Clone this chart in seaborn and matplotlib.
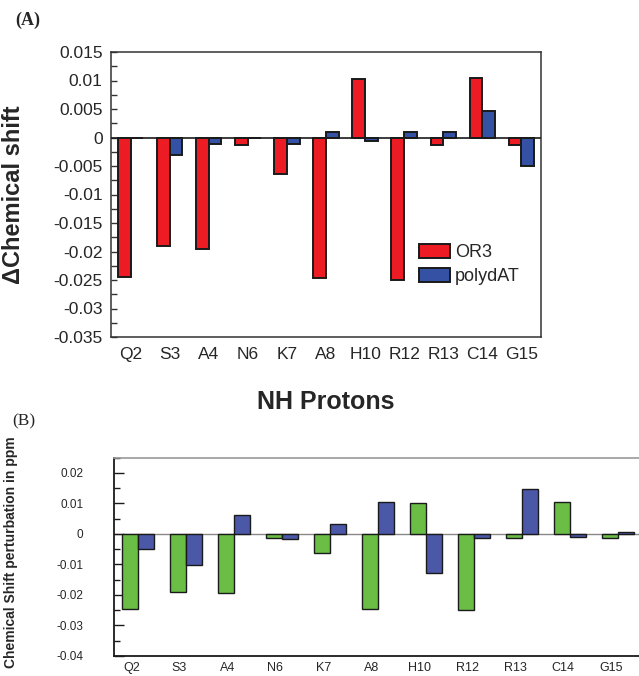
import matplotlib
matplotlib.use("Agg")
import matplotlib.pyplot as plt
import matplotlib.transforms as mtransforms
import seaborn as sns
import pandas as pd

# ---------------- data ----------------
protons = ["Q2", "S3", "A4", "N6", "K7", "A8", "H10", "R12", "R13", "C14", "G15"]
or3 = [-0.0245, -0.019, -0.0195, -0.0013, -0.0064, -0.0247, 0.0102, -0.025, -0.0013, 0.0105, -0.0013]
polydat_a = [0.0, -0.003, -0.0011, 0.0, -0.0011, 0.001, -0.0006, 0.001, 0.001, 0.0047, -0.005]
polydat_b = [-0.005, -0.0102, 0.0063, -0.0018, 0.0034, 0.0104, -0.0128, -0.0013, 0.0147, -0.001, 0.0005]
series_names = ["OR3", "polydAT"]
yticks_a = [0.015, 0.01, 0.005, 0, -0.005, -0.01, -0.015, -0.02, -0.025, -0.03, -0.035]
yticklabels_a = ["0.015", "0.01", "0.005", "0", "-0.005", "-0.01", "-0.015", "-0.02", "-0.025", "-0.03", "-0.035"]
yticks_b = [0.02, 0.01, 0, -0.01, -0.02, -0.03, -0.04]
yticklabels_b = ["0.02", "0.01", "0", "-0.01", "-0.02", "-0.03", "-0.04"]

df_a = pd.DataFrame({
    "proton": protons * 2,
    "shift": or3 + polydat_a,
    "series": [series_names[0]] * len(protons) + [series_names[1]] * len(protons),
})
df_b = pd.DataFrame({
    "proton": protons * 2,
    "shift": or3 + polydat_b,
    "series": [series_names[0]] * len(protons) + [series_names[1]] * len(protons),
})

sns.set_theme(style="white")
plt.rcParams["font.family"] = ["Liberation Sans", "DejaVu Sans"]

W, H = 639, 676
fig = plt.figure(figsize=(W / 100, H / 100), dpi=100)

def px_axes(l, t, r, b):
    return fig.add_axes([l / W, 1 - b / H, (r - l) / W, (b - t) / H])

# ---------------- Panel A ----------------
axA = px_axes(111, 52, 541, 337)
sns.barplot(data=df_a, x="proton", y="shift", hue="series", order=protons,
            hue_order=series_names, palette=["#ED1C24", "#3551A3"], saturation=1,
            width=0.65, edgecolor="#1a1a1a", linewidth=1.4, ax=axA, legend=True)
axA.set_xlim(-0.5, len(protons) - 0.5)
axA.set_ylim(-0.035, 0.015)
axA.axhline(0, color="#1a1a1a", lw=1.2, zorder=5)
axA.set_yticks(yticks_a)
axA.set_yticklabels(yticklabels_a)
axA.set_yticks([v + 0.0025 for v in yticks_a[1:]], minor=True)
axA.tick_params(axis="y", which="both", direction="in", length=4, width=1,
                labelsize=12.5, pad=6, color="#333333", left=True)
axA.tick_params(axis="x", length=0, labelsize=12.5, pad=7)
for s in axA.spines.values():
    s.set_color("#333333")
    s.set_linewidth(1.1)
axA.set_ylabel("\u0394Chemical shift", fontsize=17, fontweight="bold")
axA.yaxis.set_label_coords(-0.2, 0.5)
axA.set_xlabel("NH Protons", fontsize=18, fontweight="bold")
axA.xaxis.set_label_coords(0.5, -0.185)
h, l = axA.get_legend_handles_labels()
axA.legend(h, l, loc="upper left", bbox_to_anchor=(419 / W, 1 - 244 / H),
           bbox_transform=fig.transFigure, frameon=False, fontsize=13,
           handlelength=1.7, handleheight=0.85, handletextpad=0.3,
           labelspacing=0.35, borderpad=0, borderaxespad=0)
fig.text(15 / W, 1 - 20 / H, "(A)", fontsize=13, fontweight="bold",
         family="Liberation Serif", ha="left", va="center")

# ---------------- Panel B ----------------
axB = px_axes(114, 457.7, 639, 656)
sns.barplot(data=df_b, x="proton", y="shift", hue="series", order=protons,
            hue_order=series_names, palette=["#6ABD45", "#4B58A7"], saturation=1,
            width=0.667, edgecolor="#1a1a1a", linewidth=1.0, ax=axB, legend=False)
axB.set_xlim(-0.507, 10.44)
axB.set_ylim(-0.04, 0.025)
axB.axhline(0, color="#888888", lw=1.0, zorder=0.5)
axB.set_yticks(yticks_b)
axB.set_yticklabels(yticklabels_b)
axB.set_yticks([v + 0.005 for v in yticks_b], minor=True)
axB.tick_params(axis="y", which="major", direction="in", length=7, width=1,
                labelsize=8.5, pad=22, color="#1a1a1a", left=True)
axB.tick_params(axis="y", which="minor", direction="in", length=4, width=1,
                color="#1a1a1a", left=True)
axB.tick_params(axis="x", length=0, labelsize=9, pad=4)
offset = mtransforms.ScaledTranslation(-7 / 100, 0, fig.dpi_scale_trans)
for lab in axB.get_xticklabels():
    lab.set_transform(lab.get_transform() + offset)
axB.spines["right"].set_visible(False)
axB.spines["top"].set_color("#999999")
axB.spines["top"].set_linewidth(1.2)
axB.spines["left"].set_color("#1a1a1a")
axB.spines["left"].set_linewidth(1.3)
axB.spines["bottom"].set_color("#1a1a1a")
axB.spines["bottom"].set_linewidth(1.3)
axB.set_xlabel("")
axB.set_ylabel("Chemical Shift perturbation in ppm", fontsize=10, fontweight="bold")
axB.yaxis.set_label_coords(-0.183, 0.524)
fig.text(12 / W, 1 - 421 / H, "(B)", fontsize=12.5, family="Liberation Serif",
         ha="left", va="center")

fig.savefig("out.png", dpi=100, facecolor="white")
